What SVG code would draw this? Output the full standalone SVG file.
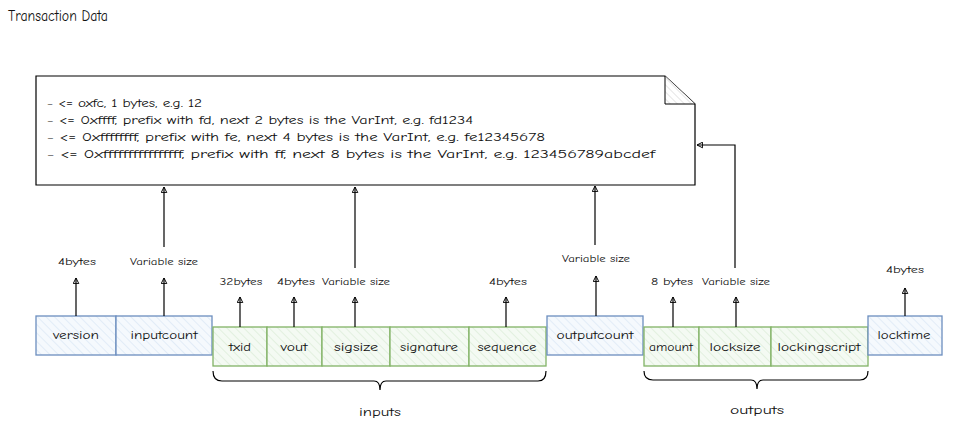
<svg xmlns="http://www.w3.org/2000/svg" width="956" height="433" viewBox="0 0 956 433">
<defs>
<pattern id="hb" width="6" height="6" patternUnits="userSpaceOnUse" patternTransform="rotate(-45)">
<rect width="6" height="6" fill="#f5f9fd"/>
<line x1="0" y1="0" x2="0" y2="6" stroke="#cfdff1" stroke-width="1"/>
</pattern>
<pattern id="hg" width="6" height="6" patternUnits="userSpaceOnUse" patternTransform="rotate(-45)">
<rect width="6" height="6" fill="#f4faf3"/>
<line x1="0" y1="0" x2="0" y2="6" stroke="#d0e6cc" stroke-width="1"/>
</pattern>
<pattern id="hn" width="5" height="5" patternUnits="userSpaceOnUse" patternTransform="rotate(-45)">
<rect width="5" height="5" fill="#fff"/>
<line x1="0" y1="0" x2="0" y2="5" stroke="#ccc" stroke-width="1"/>
</pattern>
<marker id="ar" viewBox="0 0 10 10" refX="9" refY="5" markerWidth="7" markerHeight="7" orient="auto-start-reverse" markerUnits="userSpaceOnUse">
<path d="M1,1 L9,5 L1,9 Z" fill="none" stroke="#000" stroke-width="1.4"/>
</marker>
</defs>
<style>
text{font-family:"Comic Neue","Liberation Sans",sans-serif;fill:#111}
.b{fill:url(#hb);stroke:#6c8ebf;stroke-width:1.3}
.g{fill:url(#hg);stroke:#82b366;stroke-width:1.3}
.lbl{font-size:12px;text-anchor:middle}
.sz{font-size:9px;text-anchor:middle}
.nt{font-size:11.5px}
.c{fill:none;stroke:#000;stroke-width:1.2}
.ca{fill:none;stroke:#000;stroke-width:1.2;marker-end:url(#ar)}
</style>
<rect width="956" height="433" fill="#fff"/>
<text x="8" y="21" font-size="15" textLength="100" lengthAdjust="spacingAndGlyphs">Transaction Data</text>

<g id="note">
<path d="M36,76 H665 L695,104 V185 H36 Z" fill="#fff" stroke="#000" stroke-width="1.2"/>
<path d="M665,76 L665,104 L695,104" fill="url(#hn)" stroke="#000" stroke-width="1"/>
<text class="nt" x="47" y="107" textLength="155" lengthAdjust="spacingAndGlyphs">- &lt;= oxfc, 1 bytes, e.g. 12</text>
<text class="nt" x="47" y="124" textLength="426" lengthAdjust="spacingAndGlyphs">- &lt;= 0xffff, prefix with fd, next 2 bytes is the VarInt, e.g. fd1234</text>
<text class="nt" x="47" y="141" textLength="498" lengthAdjust="spacingAndGlyphs">- &lt;= 0xffffffff, prefix with fe, next 4 bytes is the VarInt, e.g. fe12345678</text>
<text class="nt" x="47" y="158" textLength="608" lengthAdjust="spacingAndGlyphs">- &lt;= 0xffffffffffffffff, prefix with ff, next 8 bytes is the VarInt, e.g. 123456789abcdef</text>
</g>

<g id="version"><rect class="b" x="36" y="316" width="80" height="39"/><text class="lbl" x="76" y="339" textLength="46" lengthAdjust="spacingAndGlyphs">version</text></g>
<g id="inputcount"><rect class="b" x="116" y="316" width="96" height="39"/><text class="lbl" x="164" y="339" textLength="67" lengthAdjust="spacingAndGlyphs">inputcount</text></g>
<g id="txid"><rect class="g" x="213" y="327" width="54" height="39"/><text class="lbl" x="240" y="351" textLength="22" lengthAdjust="spacingAndGlyphs">txid</text></g>
<g id="vout"><rect class="g" x="267" y="327" width="55" height="39"/><text class="lbl" x="294" y="351" textLength="27" lengthAdjust="spacingAndGlyphs">vout</text></g>
<g id="sigsize"><rect class="g" x="322" y="327" width="68" height="39"/><text class="lbl" x="356" y="351" textLength="44" lengthAdjust="spacingAndGlyphs">sigsize</text></g>
<g id="signature"><rect class="g" x="390" y="327" width="79" height="39"/><text class="lbl" x="429" y="351" textLength="58" lengthAdjust="spacingAndGlyphs">signature</text></g>
<g id="sequence"><rect class="g" x="469" y="327" width="77" height="39"/><text class="lbl" x="507" y="351" textLength="59" lengthAdjust="spacingAndGlyphs">sequence</text></g>
<g id="outputcount"><rect class="b" x="547" y="316" width="96" height="39"/><text class="lbl" x="595" y="339" textLength="77" lengthAdjust="spacingAndGlyphs">outputcount</text></g>
<g id="amount"><rect class="g" x="644" y="327" width="55" height="39"/><text class="lbl" x="671" y="351" textLength="44" lengthAdjust="spacingAndGlyphs">amount</text></g>
<g id="locksize"><rect class="g" x="699" y="327" width="72" height="39"/><text class="lbl" x="735" y="351" textLength="51" lengthAdjust="spacingAndGlyphs">locksize</text></g>
<g id="lockingscript"><rect class="g" x="771" y="327" width="97" height="39"/><text class="lbl" x="819" y="351" textLength="83" lengthAdjust="spacingAndGlyphs">lockingscript</text></g>
<g id="locktime"><rect class="b" x="868" y="316" width="74" height="39"/><text class="lbl" x="904" y="339" textLength="53" lengthAdjust="spacingAndGlyphs">locktime</text></g>

<g id="labels">
<text class="sz" x="77" y="265" textLength="38" lengthAdjust="spacingAndGlyphs">4bytes</text>
<text class="sz" x="164" y="265" textLength="68" lengthAdjust="spacingAndGlyphs">Variable size</text>
<text class="sz" x="241" y="285" textLength="43" lengthAdjust="spacingAndGlyphs">32bytes</text>
<text class="sz" x="296" y="285" textLength="38" lengthAdjust="spacingAndGlyphs">4bytes</text>
<text class="sz" x="356" y="285" textLength="68" lengthAdjust="spacingAndGlyphs">Variable size</text>
<text class="sz" x="508" y="285" textLength="38" lengthAdjust="spacingAndGlyphs">4bytes</text>
<text class="sz" x="596" y="262" textLength="68" lengthAdjust="spacingAndGlyphs">Variable size</text>
<text class="sz" x="672" y="285" textLength="42" lengthAdjust="spacingAndGlyphs">8 bytes</text>
<text class="sz" x="736" y="285" textLength="68" lengthAdjust="spacingAndGlyphs">Variable size</text>
<text class="sz" x="905" y="273" textLength="38" lengthAdjust="spacingAndGlyphs">4bytes</text>
<text x="380" y="416" font-size="12" text-anchor="middle" textLength="42" lengthAdjust="spacingAndGlyphs">inputs</text>
<text x="757" y="414" font-size="12" text-anchor="middle" textLength="54" lengthAdjust="spacingAndGlyphs">outputs</text>
</g>

<g id="connectors">
<line class="ca" x1="76" y1="316" x2="76" y2="278"/>
<line class="ca" x1="164" y1="316" x2="164" y2="278"/>
<line class="ca" x1="164" y1="247" x2="164" y2="187"/>
<line class="ca" x1="240" y1="327" x2="240" y2="297"/>
<line class="ca" x1="294" y1="327" x2="294" y2="297"/>
<line class="ca" x1="355" y1="327" x2="355" y2="297"/>
<line class="ca" x1="355" y1="268" x2="355" y2="187"/>
<line class="ca" x1="506" y1="327" x2="506" y2="297"/>
<line class="ca" x1="596" y1="316" x2="596" y2="276"/>
<line class="ca" x1="595" y1="245" x2="595" y2="186"/>
<line class="ca" x1="673" y1="327" x2="673" y2="297"/>
<line class="ca" x1="736" y1="327" x2="736" y2="297"/>
<path class="ca" d="M735,268 V145 H697"/>
<line class="ca" x1="905" y1="316" x2="905" y2="288"/>
<path class="c" d="M213,371 Q213,381 222,381 H374 Q380,381 380,390 Q380,381 386,381 H538 Q546,381 546,371"/>
<path class="c" d="M644,371 Q644,380 653,380 H751 Q757,380 757,389 Q757,380 763,380 H860 Q868,380 868,371"/>
</g>
</svg>
